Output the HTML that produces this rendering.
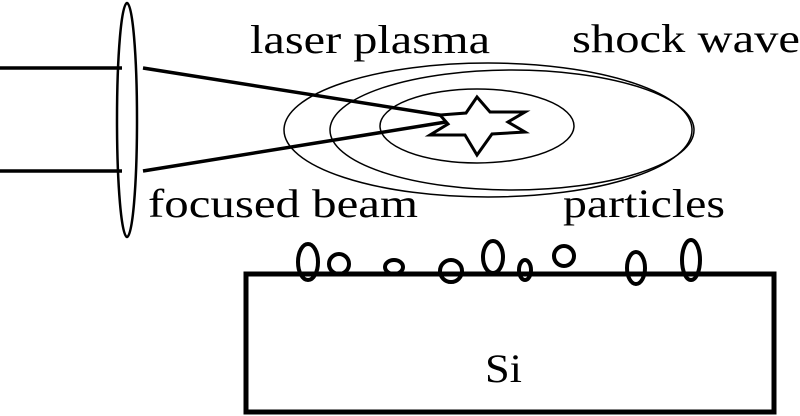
<!DOCTYPE html>
<html><head><style>
html,body{margin:0;padding:0;background:#fff;}
svg{display:block;}
</style></head><body>
<svg width="800" height="416" viewBox="0 0 800 416" xmlns="http://www.w3.org/2000/svg">
<g fill="none" stroke="#000">
<line x1="0" y1="68" x2="122" y2="68" stroke-width="3.5"/>
<line x1="0" y1="171" x2="122" y2="171" stroke-width="3.5"/>
<ellipse cx="127" cy="120" rx="10" ry="117" stroke-width="2.5"/>
<line x1="143" y1="68" x2="452" y2="117" stroke-width="3.5"/>
<line x1="143" y1="171" x2="452" y2="121" stroke-width="3.5"/>
<ellipse cx="488" cy="130" rx="204" ry="67" stroke-width="1.5"/>
<ellipse cx="512" cy="130" rx="182" ry="60" stroke-width="1.5"/>
<ellipse cx="477" cy="126" rx="97" ry="37" stroke-width="1.5"/>
<polygon points="477,97 490,112 525,112 508,122 525,132 492,134 477,155 465,135 430,135 448,124 440,115 466,113" stroke-width="3" fill="#fff"/>
<rect x="246" y="274" width="528" height="138" stroke-width="5"/>
<g stroke-width="4">
<ellipse cx="308" cy="262" rx="10" ry="18"/>
<circle cx="339" cy="264" r="10"/>
<ellipse cx="394" cy="267" rx="9" ry="7"/>
<circle cx="451" cy="271" r="11"/>
<ellipse cx="493" cy="257" rx="10" ry="16"/>
<ellipse cx="525" cy="270" rx="6" ry="10"/>
<circle cx="564" cy="256" r="10"/>
<ellipse cx="636" cy="268" rx="9" ry="16"/>
<ellipse cx="691" cy="260" rx="9" ry="20"/>
</g>
</g>
<g font-family="Liberation Serif, serif" fill="#000" font-size="40">
<text x="250" y="53" textLength="240" lengthAdjust="spacingAndGlyphs">laser plasma</text>
<text x="572" y="52" textLength="228" lengthAdjust="spacingAndGlyphs">shock wave</text>
<text x="148" y="217" textLength="270" lengthAdjust="spacingAndGlyphs">focused beam</text>
<text x="563" y="217" textLength="162" lengthAdjust="spacingAndGlyphs">particles</text>
<text x="485" y="382" textLength="37" lengthAdjust="spacingAndGlyphs">Si</text>
</g>
</svg>
</body></html>
